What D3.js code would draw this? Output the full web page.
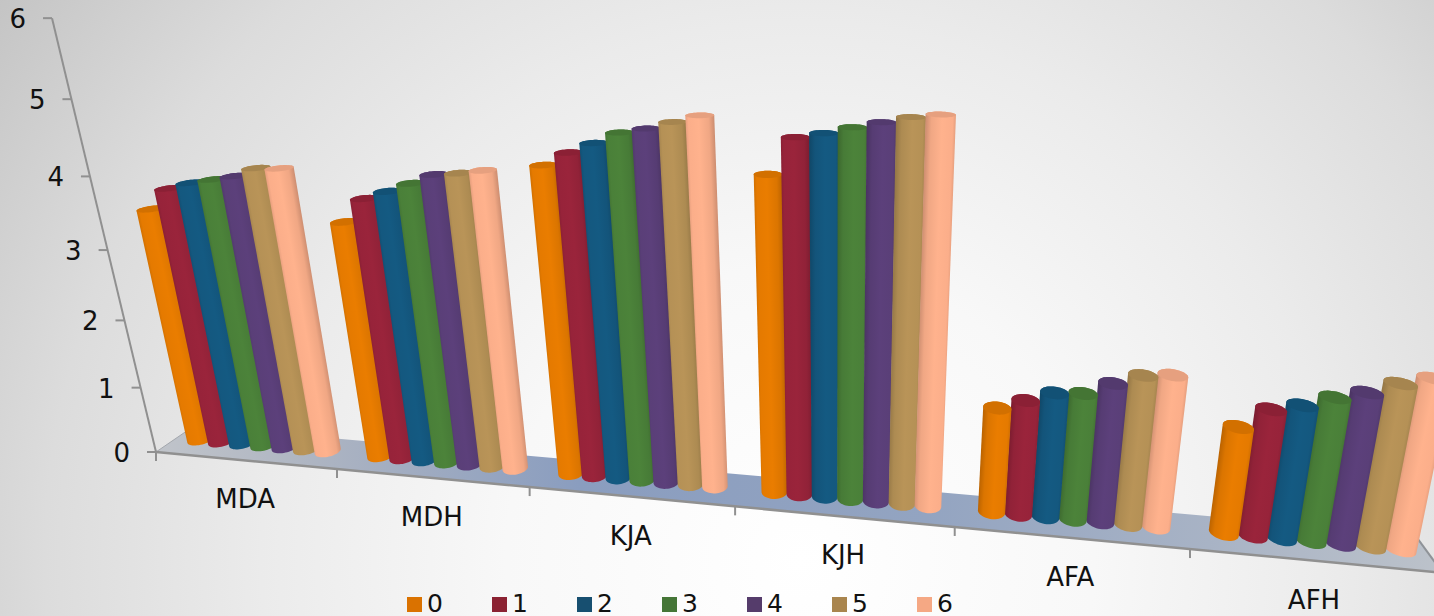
<!DOCTYPE html>
<html>
<head>
<meta charset="utf-8">
<script src="https://cdn.jsdelivr.net/npm/d3@7/dist/d3.min.js"></script>
<style>
  html, body { margin: 0; padding: 0; background: #fff; }
  svg { display: block; }
  text { font-family: "DejaVu Sans", Verdana, sans-serif; fill: #111; }
</style>
</head>
<body>
<svg id="chart" width="1434" height="616"></svg>
<script>
// Chart values
const categories = ["MDA", "MDH", "KJA", "KJH", "AFA", "AFH"];
const seriesNames = ["0", "1", "2", "3", "4", "5", "6"];
const series0 = [3.46, 3.42, 4.29, 4.29, 1.46, 1.45];
const series1 = [3.76, 3.75, 4.46, 4.75, 1.59, 1.71];
const series2 = [3.85, 3.86, 4.59, 4.81, 1.72, 1.79];
const series3 = [3.91, 3.98, 4.73, 4.89, 1.74, 1.92];
const series4 = [3.97, 4.11, 4.79, 4.96, 1.90, 2.01];
const series5 = [4.09, 4.14, 4.88, 5.03, 2.03, 2.15];
const series6 = [4.10, 4.19, 4.97, 5.07, 2.06, 2.24];
const seriesValues = [series0, series1, series2, series3, series4, series5, series6];
const seriesColors = ["#E57A00", "#97233A", "#14587F", "#4A8039", "#5A3F78", "#B59156", "#FBAE8A"];
const legendColors = ["#DA7200", "#8B2232", "#174F70", "#457637", "#553C6B", "#A9854E", "#F5A884"];
const valueTicks = [0, 1, 2, 3, 4, 5, 6];

const width = 1434, height = 616;
const svg = d3.select("#chart");
const defs = svg.append("defs");

// Perspective camera: (u along categories, v up the value axis, z into the floor)
function project(u, v, z) {
  const w = 1 - 0.03025 * u - 0.02155 * v + 0.05 * z;
  return [
    (156 + 170.8 * u - 18.45 * v + 47.7 * z) / w,
    (452 + 2.8 * u - 72.7 * v - 4.7 * z) / w
  ];
}

// Scales in camera space
const uAxis = d3.scaleBand().domain(categories).range([0, 6]);
const uBars = d3.scaleBand().domain(categories).range([-0.015, 6.03]);
const uSeries = d3.scalePoint().domain(seriesNames).range([0.15, 0.864]);
const vScale = d3.scaleLinear().domain([0, 6]).range([0, 6]);

const barRadiusU = 0.061, barRadiusZ = 0.225, barDepth = 0.55, barLean = 0.6;
const depthVanishX = 954;

// A point on a bar, with the slight extra lean of the cylinders
function barPoint(u, v, z) {
  const [x, y] = project(u, v, z);
  return [x + barLean * v, y];
}

// Backdrop
const bg = defs.append("radialGradient").attr("id", "backdrop")
  .attr("gradientUnits", "userSpaceOnUse")
  .attr("cx", 800).attr("cy", 560).attr("r", 980);
[[0, "#ffffff"], [0.3, "#f8f8f8"], [0.55, "#ebebeb"], [0.77, "#dcdcdc"], [1, "#c4c4c4"]].forEach(([o, c]) =>
  bg.append("stop").attr("offset", o).attr("stop-color", c));
svg.append("rect").attr("width", width).attr("height", height).attr("fill", "url(#backdrop)");

// Floor
const floorGrad = defs.append("linearGradient").attr("id", "floor")
  .attr("gradientUnits", "userSpaceOnUse")
  .attr("x1", 156).attr("y1", 0).attr("x2", 1440).attr("y2", 0);
[[0, "#c0c4ca"], [0.12, "#aeb5c2"], [0.33, "#8a9dbf"], [0.6, "#93a4c1"], [0.82, "#a8b3c5"], [1, "#bcc2ca"]]
  .forEach(([o, c]) => floorGrad.append("stop").attr("offset", o).attr("stop-color", c));

const line = d3.line();
const floorCorners = [project(0, 0, 0), project(6, 0, 0), project(6, 0, 1), project(0, 0, 1)];
svg.append("path").attr("d", line(floorCorners) + "Z").attr("fill", "url(#floor)");
svg.append("path").attr("d", line([project(0, 0, 1), project(0, 0, 0)]))
  .attr("stroke", "#a3a7ad").attr("stroke-width", 1).attr("fill", "none");
svg.append("path").attr("d", line([project(6, 0, 1), project(6, 0, 0)]))
  .attr("stroke", "#8f9398").attr("stroke-width", 2).attr("fill", "none");
svg.append("path").attr("d", line([project(6, 0, 1), project(5.6, 0, 1)]))
  .attr("stroke", "#a8adb3").attr("stroke-width", 1).attr("fill", "none");

// Value axis
const axisColor = "#909090";
svg.append("path").attr("d", line([project(0, 0, 0), project(0, 6, 0)]))
  .attr("stroke", axisColor).attr("stroke-width", 2).attr("fill", "none");
valueTicks.forEach(t => {
  const [x, y] = project(0, vScale(t), 0);
  svg.append("line").attr("x1", x - 9).attr("x2", x).attr("y1", y).attr("y2", y)
    .attr("stroke", axisColor).attr("stroke-width", 2);
  svg.append("text").attr("x", x - 26).attr("y", y + 1)
    .attr("text-anchor", "end").attr("dominant-baseline", "central")
    .attr("font-size", 26).text(t);
});

// Category axis along the front edge of the floor
svg.append("path").attr("d", line([project(0, 0, 0), project(6, 0, 0)]))
  .attr("stroke", axisColor).attr("stroke-width", 2.5).attr("fill", "none");
d3.range(0, 7).forEach(i => {
  const [x, y] = project(i, 0, 0);
  svg.append("line").attr("x1", x).attr("x2", x).attr("y1", y).attr("y2", y + 9)
    .attr("stroke", axisColor).attr("stroke-width", 2);
});
categories.forEach(c => {
  const [x, y] = project(uAxis(c) + uAxis.bandwidth() / 2, 0, 0);
  svg.append("text").attr("x", x).attr("y", y + 39)
    .attr("text-anchor", "middle").attr("dominant-baseline", "central")
    .attr("font-size", 26).text(c);
});

// Ring of projected points around a cylinder end
function ring(u, v) {
  return d3.range(0, 48).map(k => {
    const a = k / 48 * 2 * Math.PI;
    return barPoint(u + barRadiusU * Math.cos(a), v, barDepth + barRadiusZ * Math.sin(a));
  });
}

// Flatten the table of bars, far ones first so the near ones overlap them
const bars = [];
categories.forEach((c, ci) => {
  seriesNames.forEach((s, si) => {
    const u = uBars(c) + uSeries(s) * uBars.bandwidth();
    const v = vScale(seriesValues[si][ci]);
    bars.push({ id: `bar-${ci}-${si}`, u, v, color: seriesColors[si], centerX: project(u, 0, barDepth)[0] });
  });
});
bars.sort((a, b) => Math.abs(b.centerX - depthVanishX) - Math.abs(a.centerX - depthVanishX));

bars.forEach(b => {
  const topRing = ring(b.u, b.v);
  const baseRing = ring(b.u, 0);
  const hull = d3.polygonHull(topRing.concat(baseRing));
  const topC = barPoint(b.u, b.v, barDepth), baseC = barPoint(b.u, 0, barDepth);
  const mid = [(topC[0] + baseC[0]) / 2, (topC[1] + baseC[1]) / 2];
  const len = Math.hypot(topC[0] - baseC[0], topC[1] - baseC[1]);
  const nx = -(topC[1] - baseC[1]) / len, ny = (topC[0] - baseC[0]) / len;
  const reach = d3.max(hull, p => Math.abs((p[0] - mid[0]) * nx + (p[1] - mid[1]) * ny));
  const sx = nx >= 0 ? 1 : -1;

  // Shading across the width of the cylinder, darker on the side turned from the centre
  const base = d3.color(b.color);
  const leftDark = b.centerX > depthVanishX - 150;
  const g = defs.append("linearGradient").attr("id", b.id)
    .attr("gradientUnits", "userSpaceOnUse")
    .attr("x1", mid[0] - sx * nx * reach).attr("y1", mid[1] - sx * ny * reach)
    .attr("x2", mid[0] + sx * nx * reach).attr("y2", mid[1] + sx * ny * reach);
  const stops = leftDark
    ? [[0, base.darker(0.6)], [0.2, base.darker(0.12)], [0.55, base.brighter(0.06)], [0.9, base], [1, base.darker(0.25)]]
    : [[0, base.darker(0.25)], [0.1, base], [0.45, base.brighter(0.06)], [0.8, base.darker(0.12)], [1, base.darker(0.6)]];
  stops.forEach(([o, c]) => g.append("stop").attr("offset", o).attr("stop-color", c.formatHex()));

  svg.append("path").attr("d", line(hull) + "Z").attr("fill", `url(#${b.id})`);
  svg.append("path").attr("d", line(topRing) + "Z").attr("fill", base.darker(0.24).formatHex());
});

// Legend
const legendX = d3.scalePoint().domain(seriesNames).range([407, 917]);
seriesNames.forEach((s, i) => {
  svg.append("rect").attr("x", legendX(s)).attr("y", 597).attr("width", 15).attr("height", 15)
    .attr("fill", legendColors[i]);
  svg.append("text").attr("x", legendX(s) + 20).attr("y", 603)
    .attr("dominant-baseline", "central").attr("font-size", 25).text(s);
});
</script>
</body>
</html>
